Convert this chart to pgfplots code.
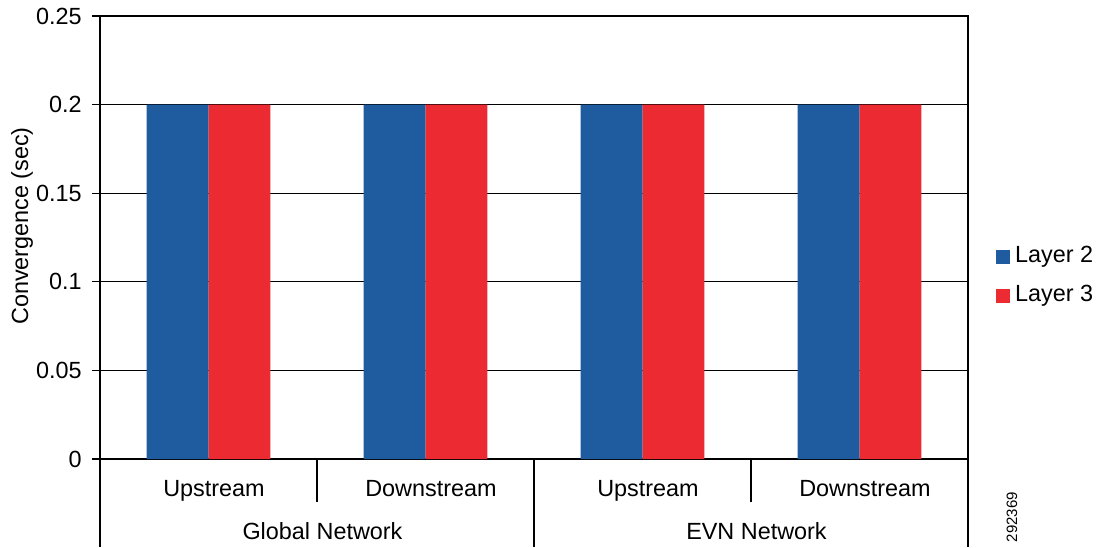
\documentclass[border=0pt]{standalone}
\usepackage{pgfplots}
\pgfplotsset{compat=1.18}
\usepackage{fontspec}
\setmainfont{Liberation Sans}
\definecolor{lay2}{HTML}{1F5C9F}
\definecolor{lay3}{HTML}{EC2A32}

\begin{document}
\fontsize{11.7pt}{14pt}\selectfont
\begin{tikzpicture}
\useasboundingbox (0,0) rectangle (549.5pt,273.5pt);
\begin{axis}[
    at={(50pt,44pt)}, anchor=south west,
    scale only axis,
    width=434pt, height=221.5pt,
    ybar=0pt, bar width=0.2857,
    xmin=-0.5, xmax=3.5,
    ymin=0, ymax=0.25,
    ytick={0,0.05,0.1,0.15,0.2,0.25},
    yticklabels={0,0.05,0.1,0.15,0.2,0.25},
    xtick=\empty,
    ytick pos=left,
    tick align=outside,
    major tick length=4pt,
    tick style={black, line width=0.6pt},
    axis line style={black, line width=0.6pt},
    ymajorgrids, grid style={black, line width=0.6pt},
    yticklabel style={font=\fontsize{11.7pt}{14pt}\selectfont, inner sep=0pt, xshift=-5pt},
    clip=false,
    legend style={draw=none, fill=none, at={(1.025,0.412)}, anchor=west,
        font=\fontsize{11.7pt}{14pt}\selectfont,
        nodes={inner sep=0pt, text height=8.4pt, text depth=2.4pt},
        row sep=8.7pt, column sep=2.5pt},
    legend cell align=left,
    legend image code/.code={\fill[#1] (0pt,-3.5pt) rectangle (7pt,3.5pt);},
]
\addplot[fill=lay2, draw=none] coordinates {(0,0.2) (1,0.2) (2,0.2) (3,0.2)};
\addplot[fill=lay3, draw=none] coordinates {(0,0.2) (1,0.2) (2,0.2) (3,0.2)};
\legend{Layer 2, Layer 3}

% category table below the axis
\draw[black, line width=0.6pt] (axis cs:0.5,0) -- ([yshift=-21.5pt]axis cs:0.5,0);
\draw[black, line width=0.6pt] (axis cs:2.5,0) -- ([yshift=-21.5pt]axis cs:2.5,0);
\draw[black, line width=0.6pt] (axis cs:-0.5,0) -- ([yshift=-44pt]axis cs:-0.5,0);
\draw[black, line width=0.6pt] (axis cs:1.5,0) -- ([yshift=-44pt]axis cs:1.5,0);
\draw[black, line width=0.6pt] (axis cs:3.5,0) -- ([yshift=-44pt]axis cs:3.5,0);
\node[anchor=base, inner sep=0pt] at ([xshift=2.75pt, yshift=-18.5pt]axis cs:0,0) {Upstream};
\node[anchor=base, inner sep=0pt] at ([xshift=2.75pt, yshift=-18.5pt]axis cs:1,0) {Downstream};
\node[anchor=base, inner sep=0pt] at ([xshift=2.75pt, yshift=-18.5pt]axis cs:2,0) {Upstream};
\node[anchor=base, inner sep=0pt] at ([xshift=2.75pt, yshift=-18.5pt]axis cs:3,0) {Downstream};
\node[anchor=base, inner sep=0pt] at ([xshift=2.75pt, yshift=-40pt]axis cs:0.5,0) {Global Network};
\node[anchor=base, inner sep=0pt] at ([xshift=2.75pt, yshift=-40pt]axis cs:2.5,0) {EVN Network};
\end{axis}
\node[rotate=90, inner sep=0pt] at (11pt,160.5pt) {Convergence (sec)};
\node[rotate=90, inner sep=0pt, font=\fontsize{7.5pt}{9pt}\selectfont] at (506pt,15pt) {292369};
\end{tikzpicture}
\end{document}
